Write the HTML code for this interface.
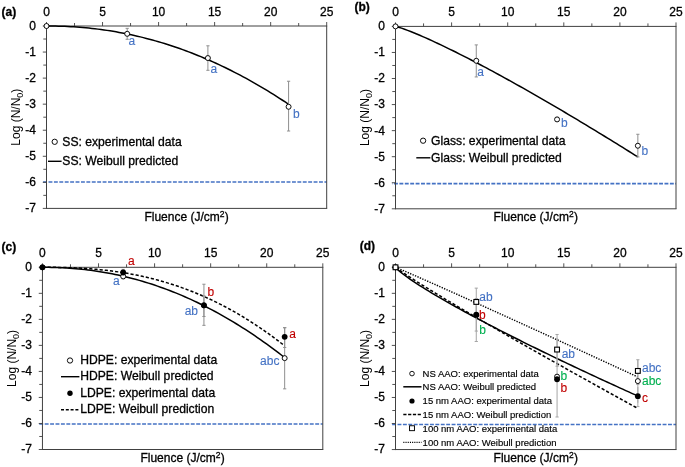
<!DOCTYPE html>
<html><head><meta charset="utf-8"><style>
html,body{margin:0;padding:0;background:#fff;}
svg{display:block;will-change:transform;}
svg text{font-family:"Liberation Sans", sans-serif;}
</style></head><body>
<svg width="685" height="467" viewBox="0 0 685 467">
<rect width="685" height="467" fill="#fff"/>
<line x1="43.10" y1="181.90" x2="326.70" y2="181.90" stroke="#4472c4" stroke-width="1.55" stroke-dasharray="3.9,1.51" stroke-dashoffset="0.00"/>
<line x1="326.70" y1="26.00" x2="326.70" y2="208.40" stroke="#404040" stroke-width="1"/>
<line x1="46.50" y1="208.40" x2="327.20" y2="208.40" stroke="#404040" stroke-width="1"/>
<line x1="46.50" y1="26.00" x2="327.20" y2="26.00" stroke="#404040" stroke-width="1"/>
<line x1="46.50" y1="25.50" x2="46.50" y2="208.90" stroke="#404040" stroke-width="1"/>
<line x1="46.50" y1="26.00" x2="46.50" y2="22.00" stroke="#404040" stroke-width="0.9"/>
<text x="46.50" y="15.60" font-size="12" fill="#000" text-anchor="middle" font-weight="normal" stroke="#000" stroke-width="0.30">0</text>
<line x1="74.52" y1="26.00" x2="74.52" y2="23.00" stroke="#404040" stroke-width="0.9"/>
<line x1="102.54" y1="26.00" x2="102.54" y2="22.00" stroke="#404040" stroke-width="0.9"/>
<text x="102.54" y="15.60" font-size="12" fill="#000" text-anchor="middle" font-weight="normal" stroke="#000" stroke-width="0.30">5</text>
<line x1="130.56" y1="26.00" x2="130.56" y2="23.00" stroke="#404040" stroke-width="0.9"/>
<line x1="158.58" y1="26.00" x2="158.58" y2="22.00" stroke="#404040" stroke-width="0.9"/>
<text x="158.58" y="15.60" font-size="12" fill="#000" text-anchor="middle" font-weight="normal" stroke="#000" stroke-width="0.30">10</text>
<line x1="186.60" y1="26.00" x2="186.60" y2="23.00" stroke="#404040" stroke-width="0.9"/>
<line x1="214.62" y1="26.00" x2="214.62" y2="22.00" stroke="#404040" stroke-width="0.9"/>
<text x="214.62" y="15.60" font-size="12" fill="#000" text-anchor="middle" font-weight="normal" stroke="#000" stroke-width="0.30">15</text>
<line x1="242.64" y1="26.00" x2="242.64" y2="23.00" stroke="#404040" stroke-width="0.9"/>
<line x1="270.66" y1="26.00" x2="270.66" y2="22.00" stroke="#404040" stroke-width="0.9"/>
<text x="270.66" y="15.60" font-size="12" fill="#000" text-anchor="middle" font-weight="normal" stroke="#000" stroke-width="0.30">20</text>
<line x1="298.68" y1="26.00" x2="298.68" y2="23.00" stroke="#404040" stroke-width="0.9"/>
<line x1="326.70" y1="26.00" x2="326.70" y2="22.00" stroke="#404040" stroke-width="0.9"/>
<text x="326.70" y="15.60" font-size="12" fill="#000" text-anchor="middle" font-weight="normal" stroke="#000" stroke-width="0.30">25</text>
<line x1="46.50" y1="26.00" x2="42.80" y2="26.00" stroke="#404040" stroke-width="0.9"/>
<text x="36.00" y="29.90" font-size="12" fill="#000" text-anchor="end" font-weight="normal" stroke="#000" stroke-width="0.30">0</text>
<line x1="46.50" y1="39.03" x2="43.30" y2="39.03" stroke="#404040" stroke-width="0.9"/>
<line x1="46.50" y1="52.06" x2="42.80" y2="52.06" stroke="#404040" stroke-width="0.9"/>
<text x="36.00" y="55.96" font-size="12" fill="#000" text-anchor="end" font-weight="normal" stroke="#000" stroke-width="0.30">-1</text>
<line x1="46.50" y1="65.09" x2="43.30" y2="65.09" stroke="#404040" stroke-width="0.9"/>
<line x1="46.50" y1="78.11" x2="42.80" y2="78.11" stroke="#404040" stroke-width="0.9"/>
<text x="36.00" y="82.01" font-size="12" fill="#000" text-anchor="end" font-weight="normal" stroke="#000" stroke-width="0.30">-2</text>
<line x1="46.50" y1="91.14" x2="43.30" y2="91.14" stroke="#404040" stroke-width="0.9"/>
<line x1="46.50" y1="104.17" x2="42.80" y2="104.17" stroke="#404040" stroke-width="0.9"/>
<text x="36.00" y="108.07" font-size="12" fill="#000" text-anchor="end" font-weight="normal" stroke="#000" stroke-width="0.30">-3</text>
<line x1="46.50" y1="117.20" x2="43.30" y2="117.20" stroke="#404040" stroke-width="0.9"/>
<line x1="46.50" y1="130.23" x2="42.80" y2="130.23" stroke="#404040" stroke-width="0.9"/>
<text x="36.00" y="134.13" font-size="12" fill="#000" text-anchor="end" font-weight="normal" stroke="#000" stroke-width="0.30">-4</text>
<line x1="46.50" y1="143.26" x2="43.30" y2="143.26" stroke="#404040" stroke-width="0.9"/>
<line x1="46.50" y1="156.29" x2="42.80" y2="156.29" stroke="#404040" stroke-width="0.9"/>
<text x="36.00" y="160.19" font-size="12" fill="#000" text-anchor="end" font-weight="normal" stroke="#000" stroke-width="0.30">-5</text>
<line x1="46.50" y1="169.31" x2="43.30" y2="169.31" stroke="#404040" stroke-width="0.9"/>
<line x1="46.50" y1="182.34" x2="42.80" y2="182.34" stroke="#404040" stroke-width="0.9"/>
<text x="36.00" y="186.24" font-size="12" fill="#000" text-anchor="end" font-weight="normal" stroke="#000" stroke-width="0.30">-6</text>
<line x1="46.50" y1="195.37" x2="43.30" y2="195.37" stroke="#404040" stroke-width="0.9"/>
<line x1="46.50" y1="208.40" x2="42.80" y2="208.40" stroke="#404040" stroke-width="0.9"/>
<text x="36.00" y="212.30" font-size="12" fill="#000" text-anchor="end" font-weight="normal" stroke="#000" stroke-width="0.30">-7</text>
<text x="186.60" y="221.00" font-size="12" fill="#000" text-anchor="middle" font-weight="normal" stroke="#000" stroke-width="0.30">Fluence (J/cm<tspan font-size="8.5" dy="-4.3">2</tspan><tspan dy="4.3" dx="0.3">)</tspan></text>
<text transform="translate(20.00,117.20) rotate(-90)" font-size="12" text-anchor="middle">Log (N/N<tspan font-size="9" dy="2.6">0</tspan><tspan dy="-2.6">)</tspan></text>
<text x="1.50" y="16.30" font-size="12" fill="#000" text-anchor="start" font-weight="bold" stroke="#000" stroke-width="0.30">(a)</text>
<polyline points="46.50,26.00 49.53,26.01 52.55,26.04 55.58,26.08 58.60,26.15 61.63,26.24 64.66,26.36 67.68,26.49 70.71,26.65 73.74,26.83 76.76,27.04 79.79,27.26 82.81,27.51 85.84,27.79 88.87,28.08 91.89,28.41 94.92,28.75 97.94,29.12 100.97,29.52 104.00,29.93 107.02,30.38 110.05,30.85 113.08,31.34 116.10,31.85 119.13,32.40 122.15,32.96 125.18,33.56 128.21,34.17 131.23,34.81 134.26,35.48 137.28,36.17 140.31,36.89 143.34,37.64 146.36,38.41 149.39,39.20 152.42,40.02 155.44,40.87 158.47,41.74 161.49,42.64 164.52,43.56 167.55,44.51 170.57,45.49 173.60,46.49 176.62,47.51 179.65,48.57 182.68,49.65 185.70,50.75 188.73,51.89 191.76,53.05 194.78,54.23 197.81,55.44 200.83,56.68 203.86,57.95 206.89,59.24 209.91,60.55 212.94,61.90 215.96,63.27 218.99,64.67 222.02,66.09 225.04,67.54 228.07,69.02 231.10,70.53 234.12,72.06 237.15,73.62 240.17,75.20 243.20,76.81 246.23,78.45 249.25,80.12 252.28,81.81 255.31,83.53 258.33,85.28 261.36,87.06 264.38,88.86 267.41,90.69 270.44,92.55 273.46,94.43 276.49,96.34 279.51,98.28 282.54,100.25 285.57,102.24 288.59,104.26" fill="none" stroke="#000" stroke-width="1.50" stroke-linecap="butt" stroke-linejoin="round"/>
<line x1="127.20" y1="28.35" x2="127.20" y2="39.29" stroke="#8f8f8f" stroke-width="1"/>
<line x1="125.60" y1="28.35" x2="128.80" y2="28.35" stroke="#8f8f8f" stroke-width="1"/>
<line x1="125.60" y1="39.29" x2="128.80" y2="39.29" stroke="#8f8f8f" stroke-width="1"/>
<line x1="207.90" y1="45.80" x2="207.90" y2="70.30" stroke="#8f8f8f" stroke-width="1"/>
<line x1="206.30" y1="45.80" x2="209.50" y2="45.80" stroke="#8f8f8f" stroke-width="1"/>
<line x1="206.30" y1="70.30" x2="209.50" y2="70.30" stroke="#8f8f8f" stroke-width="1"/>
<line x1="288.59" y1="81.24" x2="288.59" y2="131.01" stroke="#8f8f8f" stroke-width="1"/>
<line x1="286.99" y1="81.24" x2="290.19" y2="81.24" stroke="#8f8f8f" stroke-width="1"/>
<line x1="286.99" y1="131.01" x2="290.19" y2="131.01" stroke="#8f8f8f" stroke-width="1"/>
<circle cx="46.50" cy="26.00" r="2.50" fill="#fff" stroke="#000" stroke-width="0.95"/>
<circle cx="127.20" cy="33.82" r="2.50" fill="#fff" stroke="#000" stroke-width="0.95"/>
<circle cx="207.90" cy="58.05" r="2.50" fill="#fff" stroke="#000" stroke-width="0.95"/>
<circle cx="288.59" cy="106.78" r="2.50" fill="#fff" stroke="#000" stroke-width="0.95"/>
<text x="128.60" y="44.50" font-size="12" fill="#4472c4" text-anchor="start" font-weight="normal" stroke="#4472c4" stroke-width="0.12">a</text>
<text x="210.50" y="72.80" font-size="12" fill="#4472c4" text-anchor="start" font-weight="normal" stroke="#4472c4" stroke-width="0.12">a</text>
<text x="292.90" y="117.50" font-size="12" fill="#4472c4" text-anchor="start" font-weight="normal" stroke="#4472c4" stroke-width="0.12">b</text>
<circle cx="54.70" cy="141.80" r="2.65" fill="#fff" stroke="#000" stroke-width="0.95"/>
<text x="62.30" y="145.90" font-size="12.15" fill="#000" text-anchor="start" font-weight="normal" stroke="#000" stroke-width="0.30">SS: experimental data</text>
<line x1="48" y1="161.3" x2="61.6" y2="161.3" stroke="#000" stroke-width="1.4"/>
<text x="62.30" y="165.30" font-size="12.15" fill="#000" text-anchor="start" font-weight="normal" stroke="#000" stroke-width="0.30">SS: Weibull predicted</text>
<line x1="392.10" y1="183.60" x2="676.00" y2="183.60" stroke="#4472c4" stroke-width="1.55" stroke-dasharray="3.9,1.51" stroke-dashoffset="3.52"/>
<line x1="676.00" y1="26.40" x2="676.00" y2="208.80" stroke="#404040" stroke-width="1"/>
<line x1="395.50" y1="208.80" x2="676.50" y2="208.80" stroke="#404040" stroke-width="1"/>
<line x1="395.50" y1="26.40" x2="676.50" y2="26.40" stroke="#404040" stroke-width="1"/>
<line x1="395.50" y1="25.90" x2="395.50" y2="209.30" stroke="#404040" stroke-width="1"/>
<line x1="395.50" y1="26.40" x2="395.50" y2="22.40" stroke="#404040" stroke-width="0.9"/>
<text x="395.50" y="16.00" font-size="12" fill="#000" text-anchor="middle" font-weight="normal" stroke="#000" stroke-width="0.30">0</text>
<line x1="423.55" y1="26.40" x2="423.55" y2="23.40" stroke="#404040" stroke-width="0.9"/>
<line x1="451.60" y1="26.40" x2="451.60" y2="22.40" stroke="#404040" stroke-width="0.9"/>
<text x="451.60" y="16.00" font-size="12" fill="#000" text-anchor="middle" font-weight="normal" stroke="#000" stroke-width="0.30">5</text>
<line x1="479.65" y1="26.40" x2="479.65" y2="23.40" stroke="#404040" stroke-width="0.9"/>
<line x1="507.70" y1="26.40" x2="507.70" y2="22.40" stroke="#404040" stroke-width="0.9"/>
<text x="507.70" y="16.00" font-size="12" fill="#000" text-anchor="middle" font-weight="normal" stroke="#000" stroke-width="0.30">10</text>
<line x1="535.75" y1="26.40" x2="535.75" y2="23.40" stroke="#404040" stroke-width="0.9"/>
<line x1="563.80" y1="26.40" x2="563.80" y2="22.40" stroke="#404040" stroke-width="0.9"/>
<text x="563.80" y="16.00" font-size="12" fill="#000" text-anchor="middle" font-weight="normal" stroke="#000" stroke-width="0.30">15</text>
<line x1="591.85" y1="26.40" x2="591.85" y2="23.40" stroke="#404040" stroke-width="0.9"/>
<line x1="619.90" y1="26.40" x2="619.90" y2="22.40" stroke="#404040" stroke-width="0.9"/>
<text x="619.90" y="16.00" font-size="12" fill="#000" text-anchor="middle" font-weight="normal" stroke="#000" stroke-width="0.30">20</text>
<line x1="647.95" y1="26.40" x2="647.95" y2="23.40" stroke="#404040" stroke-width="0.9"/>
<line x1="676.00" y1="26.40" x2="676.00" y2="22.40" stroke="#404040" stroke-width="0.9"/>
<text x="676.00" y="16.00" font-size="12" fill="#000" text-anchor="middle" font-weight="normal" stroke="#000" stroke-width="0.30">25</text>
<line x1="395.50" y1="26.40" x2="391.80" y2="26.40" stroke="#404040" stroke-width="0.9"/>
<text x="385.00" y="30.30" font-size="12" fill="#000" text-anchor="end" font-weight="normal" stroke="#000" stroke-width="0.30">0</text>
<line x1="395.50" y1="39.43" x2="392.30" y2="39.43" stroke="#404040" stroke-width="0.9"/>
<line x1="395.50" y1="52.46" x2="391.80" y2="52.46" stroke="#404040" stroke-width="0.9"/>
<text x="385.00" y="56.36" font-size="12" fill="#000" text-anchor="end" font-weight="normal" stroke="#000" stroke-width="0.30">-1</text>
<line x1="395.50" y1="65.49" x2="392.30" y2="65.49" stroke="#404040" stroke-width="0.9"/>
<line x1="395.50" y1="78.51" x2="391.80" y2="78.51" stroke="#404040" stroke-width="0.9"/>
<text x="385.00" y="82.41" font-size="12" fill="#000" text-anchor="end" font-weight="normal" stroke="#000" stroke-width="0.30">-2</text>
<line x1="395.50" y1="91.54" x2="392.30" y2="91.54" stroke="#404040" stroke-width="0.9"/>
<line x1="395.50" y1="104.57" x2="391.80" y2="104.57" stroke="#404040" stroke-width="0.9"/>
<text x="385.00" y="108.47" font-size="12" fill="#000" text-anchor="end" font-weight="normal" stroke="#000" stroke-width="0.30">-3</text>
<line x1="395.50" y1="117.60" x2="392.30" y2="117.60" stroke="#404040" stroke-width="0.9"/>
<line x1="395.50" y1="130.63" x2="391.80" y2="130.63" stroke="#404040" stroke-width="0.9"/>
<text x="385.00" y="134.53" font-size="12" fill="#000" text-anchor="end" font-weight="normal" stroke="#000" stroke-width="0.30">-4</text>
<line x1="395.50" y1="143.66" x2="392.30" y2="143.66" stroke="#404040" stroke-width="0.9"/>
<line x1="395.50" y1="156.69" x2="391.80" y2="156.69" stroke="#404040" stroke-width="0.9"/>
<text x="385.00" y="160.59" font-size="12" fill="#000" text-anchor="end" font-weight="normal" stroke="#000" stroke-width="0.30">-5</text>
<line x1="395.50" y1="169.71" x2="392.30" y2="169.71" stroke="#404040" stroke-width="0.9"/>
<line x1="395.50" y1="182.74" x2="391.80" y2="182.74" stroke="#404040" stroke-width="0.9"/>
<text x="385.00" y="186.64" font-size="12" fill="#000" text-anchor="end" font-weight="normal" stroke="#000" stroke-width="0.30">-6</text>
<line x1="395.50" y1="195.77" x2="392.30" y2="195.77" stroke="#404040" stroke-width="0.9"/>
<line x1="395.50" y1="208.80" x2="391.80" y2="208.80" stroke="#404040" stroke-width="0.9"/>
<text x="385.00" y="212.70" font-size="12" fill="#000" text-anchor="end" font-weight="normal" stroke="#000" stroke-width="0.30">-7</text>
<text x="535.75" y="221.40" font-size="12" fill="#000" text-anchor="middle" font-weight="normal" stroke="#000" stroke-width="0.30">Fluence (J/cm<tspan font-size="8.5" dy="-4.3">2</tspan><tspan dy="4.3" dx="0.3">)</tspan></text>
<text transform="translate(369.00,117.60) rotate(-90)" font-size="12" text-anchor="middle">Log (N/N<tspan font-size="9" dy="2.6">0</tspan><tspan dy="-2.6">)</tspan></text>
<text x="354.40" y="11.40" font-size="12" fill="#000" text-anchor="start" font-weight="bold" stroke="#000" stroke-width="0.30">(b)</text>
<polyline points="395.50,26.40 398.53,27.19 401.56,28.16 404.59,29.23 407.62,30.36 410.65,31.54 413.68,32.75 416.71,34.01 419.74,35.29 422.76,36.60 425.79,37.93 428.82,39.29 431.85,40.67 434.88,42.06 437.91,43.48 440.94,44.91 443.97,46.36 447.00,47.82 450.03,49.30 453.06,50.79 456.09,52.29 459.12,53.81 462.15,55.34 465.18,56.88 468.21,58.43 471.24,59.99 474.26,61.57 477.29,63.15 480.32,64.74 483.35,66.35 486.38,67.96 489.41,69.58 492.44,71.21 495.47,72.85 498.50,74.50 501.53,76.15 504.56,77.81 507.59,79.48 510.62,81.16 513.65,82.85 516.68,84.54 519.71,86.24 522.73,87.95 525.76,89.66 528.79,91.38 531.82,93.11 534.85,94.84 537.88,96.58 540.91,98.32 543.94,100.08 546.97,101.83 550.00,103.60 553.03,105.37 556.06,107.14 559.09,108.92 562.12,110.71 565.15,112.50 568.18,114.30 571.21,116.10 574.23,117.91 577.26,119.72 580.29,121.54 583.32,123.36 586.35,125.19 589.38,127.02 592.41,128.85 595.44,130.70 598.47,132.54 601.50,134.39 604.53,136.25 607.56,138.11 610.59,139.97 613.62,141.84 616.65,143.72 619.68,145.59 622.71,147.48 625.73,149.36 628.76,151.25 631.79,153.15 634.82,155.04 637.85,156.95" fill="none" stroke="#000" stroke-width="1.50" stroke-linecap="butt" stroke-linejoin="round"/>
<line x1="476.28" y1="44.90" x2="476.28" y2="76.95" stroke="#8f8f8f" stroke-width="1"/>
<line x1="474.68" y1="44.90" x2="477.88" y2="44.90" stroke="#8f8f8f" stroke-width="1"/>
<line x1="474.68" y1="76.95" x2="477.88" y2="76.95" stroke="#8f8f8f" stroke-width="1"/>
<line x1="557.07" y1="117.34" x2="557.07" y2="121.51" stroke="#8f8f8f" stroke-width="1"/>
<line x1="555.47" y1="117.34" x2="558.67" y2="117.34" stroke="#8f8f8f" stroke-width="1"/>
<line x1="555.47" y1="121.51" x2="558.67" y2="121.51" stroke="#8f8f8f" stroke-width="1"/>
<line x1="637.85" y1="134.28" x2="637.85" y2="156.95" stroke="#8f8f8f" stroke-width="1"/>
<line x1="636.25" y1="134.28" x2="639.45" y2="134.28" stroke="#8f8f8f" stroke-width="1"/>
<line x1="636.25" y1="156.95" x2="639.45" y2="156.95" stroke="#8f8f8f" stroke-width="1"/>
<circle cx="395.50" cy="26.40" r="2.50" fill="#fff" stroke="#000" stroke-width="0.95"/>
<circle cx="476.28" cy="60.80" r="2.50" fill="#fff" stroke="#000" stroke-width="0.95"/>
<circle cx="557.07" cy="119.42" r="2.50" fill="#fff" stroke="#000" stroke-width="0.95"/>
<circle cx="637.85" cy="145.74" r="2.50" fill="#fff" stroke="#000" stroke-width="0.95"/>
<text x="477.20" y="76.20" font-size="12" fill="#4472c4" text-anchor="start" font-weight="normal" stroke="#4472c4" stroke-width="0.12">a</text>
<text x="561.00" y="126.80" font-size="12" fill="#4472c4" text-anchor="start" font-weight="normal" stroke="#4472c4" stroke-width="0.12">b</text>
<text x="641.40" y="154.60" font-size="12" fill="#4472c4" text-anchor="start" font-weight="normal" stroke="#4472c4" stroke-width="0.12">b</text>
<circle cx="423.10" cy="140.70" r="2.65" fill="#fff" stroke="#000" stroke-width="0.95"/>
<text x="431.10" y="144.90" font-size="12.15" fill="#000" text-anchor="start" font-weight="normal" stroke="#000" stroke-width="0.30">Glass: experimental data</text>
<line x1="416.3" y1="157.8" x2="430.4" y2="157.8" stroke="#000" stroke-width="1.4"/>
<text x="431.10" y="162.20" font-size="12.15" fill="#000" text-anchor="start" font-weight="normal" stroke="#000" stroke-width="0.30">Glass: Weibull predicted</text>
<line x1="39.05" y1="424.00" x2="322.80" y2="424.00" stroke="#4472c4" stroke-width="1.55" stroke-dasharray="3.9,1.51" stroke-dashoffset="5.16"/>
<line x1="322.80" y1="267.30" x2="322.80" y2="449.50" stroke="#404040" stroke-width="1"/>
<line x1="42.45" y1="449.50" x2="323.30" y2="449.50" stroke="#404040" stroke-width="1"/>
<line x1="42.45" y1="267.30" x2="323.30" y2="267.30" stroke="#404040" stroke-width="1"/>
<line x1="42.45" y1="266.80" x2="42.45" y2="450.00" stroke="#404040" stroke-width="1"/>
<line x1="42.45" y1="267.30" x2="42.45" y2="263.30" stroke="#404040" stroke-width="0.9"/>
<text x="42.45" y="256.90" font-size="12" fill="#000" text-anchor="middle" font-weight="normal" stroke="#000" stroke-width="0.30">0</text>
<line x1="70.48" y1="267.30" x2="70.48" y2="264.30" stroke="#404040" stroke-width="0.9"/>
<line x1="98.52" y1="267.30" x2="98.52" y2="263.30" stroke="#404040" stroke-width="0.9"/>
<text x="98.52" y="256.90" font-size="12" fill="#000" text-anchor="middle" font-weight="normal" stroke="#000" stroke-width="0.30">5</text>
<line x1="126.56" y1="267.30" x2="126.56" y2="264.30" stroke="#404040" stroke-width="0.9"/>
<line x1="154.59" y1="267.30" x2="154.59" y2="263.30" stroke="#404040" stroke-width="0.9"/>
<text x="154.59" y="256.90" font-size="12" fill="#000" text-anchor="middle" font-weight="normal" stroke="#000" stroke-width="0.30">10</text>
<line x1="182.62" y1="267.30" x2="182.62" y2="264.30" stroke="#404040" stroke-width="0.9"/>
<line x1="210.66" y1="267.30" x2="210.66" y2="263.30" stroke="#404040" stroke-width="0.9"/>
<text x="210.66" y="256.90" font-size="12" fill="#000" text-anchor="middle" font-weight="normal" stroke="#000" stroke-width="0.30">15</text>
<line x1="238.69" y1="267.30" x2="238.69" y2="264.30" stroke="#404040" stroke-width="0.9"/>
<line x1="266.73" y1="267.30" x2="266.73" y2="263.30" stroke="#404040" stroke-width="0.9"/>
<text x="266.73" y="256.90" font-size="12" fill="#000" text-anchor="middle" font-weight="normal" stroke="#000" stroke-width="0.30">20</text>
<line x1="294.77" y1="267.30" x2="294.77" y2="264.30" stroke="#404040" stroke-width="0.9"/>
<line x1="322.80" y1="267.30" x2="322.80" y2="263.30" stroke="#404040" stroke-width="0.9"/>
<text x="322.80" y="256.90" font-size="12" fill="#000" text-anchor="middle" font-weight="normal" stroke="#000" stroke-width="0.30">25</text>
<line x1="42.45" y1="267.30" x2="38.75" y2="267.30" stroke="#404040" stroke-width="0.9"/>
<text x="31.95" y="271.20" font-size="12" fill="#000" text-anchor="end" font-weight="normal" stroke="#000" stroke-width="0.30">0</text>
<line x1="42.45" y1="280.31" x2="39.25" y2="280.31" stroke="#404040" stroke-width="0.9"/>
<line x1="42.45" y1="293.33" x2="38.75" y2="293.33" stroke="#404040" stroke-width="0.9"/>
<text x="31.95" y="297.23" font-size="12" fill="#000" text-anchor="end" font-weight="normal" stroke="#000" stroke-width="0.30">-1</text>
<line x1="42.45" y1="306.34" x2="39.25" y2="306.34" stroke="#404040" stroke-width="0.9"/>
<line x1="42.45" y1="319.36" x2="38.75" y2="319.36" stroke="#404040" stroke-width="0.9"/>
<text x="31.95" y="323.26" font-size="12" fill="#000" text-anchor="end" font-weight="normal" stroke="#000" stroke-width="0.30">-2</text>
<line x1="42.45" y1="332.37" x2="39.25" y2="332.37" stroke="#404040" stroke-width="0.9"/>
<line x1="42.45" y1="345.39" x2="38.75" y2="345.39" stroke="#404040" stroke-width="0.9"/>
<text x="31.95" y="349.29" font-size="12" fill="#000" text-anchor="end" font-weight="normal" stroke="#000" stroke-width="0.30">-3</text>
<line x1="42.45" y1="358.40" x2="39.25" y2="358.40" stroke="#404040" stroke-width="0.9"/>
<line x1="42.45" y1="371.41" x2="38.75" y2="371.41" stroke="#404040" stroke-width="0.9"/>
<text x="31.95" y="375.31" font-size="12" fill="#000" text-anchor="end" font-weight="normal" stroke="#000" stroke-width="0.30">-4</text>
<line x1="42.45" y1="384.43" x2="39.25" y2="384.43" stroke="#404040" stroke-width="0.9"/>
<line x1="42.45" y1="397.44" x2="38.75" y2="397.44" stroke="#404040" stroke-width="0.9"/>
<text x="31.95" y="401.34" font-size="12" fill="#000" text-anchor="end" font-weight="normal" stroke="#000" stroke-width="0.30">-5</text>
<line x1="42.45" y1="410.46" x2="39.25" y2="410.46" stroke="#404040" stroke-width="0.9"/>
<line x1="42.45" y1="423.47" x2="38.75" y2="423.47" stroke="#404040" stroke-width="0.9"/>
<text x="31.95" y="427.37" font-size="12" fill="#000" text-anchor="end" font-weight="normal" stroke="#000" stroke-width="0.30">-6</text>
<line x1="42.45" y1="436.49" x2="39.25" y2="436.49" stroke="#404040" stroke-width="0.9"/>
<line x1="42.45" y1="449.50" x2="38.75" y2="449.50" stroke="#404040" stroke-width="0.9"/>
<text x="31.95" y="453.40" font-size="12" fill="#000" text-anchor="end" font-weight="normal" stroke="#000" stroke-width="0.30">-7</text>
<text x="182.62" y="462.10" font-size="12" fill="#000" text-anchor="middle" font-weight="normal" stroke="#000" stroke-width="0.30">Fluence (J/cm<tspan font-size="8.5" dy="-4.3">2</tspan><tspan dy="4.3" dx="0.3">)</tspan></text>
<text transform="translate(15.95,358.40) rotate(-90)" font-size="12" text-anchor="middle">Log (N/N<tspan font-size="9" dy="2.6">0</tspan><tspan dy="-2.6">)</tspan></text>
<text x="1.50" y="251.40" font-size="12" fill="#000" text-anchor="start" font-weight="bold" stroke="#000" stroke-width="0.30">(c)</text>
<polyline points="42.45,267.30 45.48,267.31 48.51,267.34 51.53,267.39 54.56,267.46 57.59,267.56 60.62,267.68 63.64,267.83 66.67,268.00 69.70,268.20 72.73,268.43 75.76,268.68 78.78,268.96 81.81,269.26 84.84,269.59 87.87,269.95 90.89,270.34 93.92,270.75 96.95,271.19 99.98,271.66 103.01,272.16 106.03,272.69 109.06,273.24 112.09,273.83 115.12,274.44 118.14,275.08 121.17,275.75 124.20,276.45 127.23,277.18 130.26,277.94 133.28,278.73 136.31,279.54 139.34,280.39 142.37,281.27 145.39,282.18 148.42,283.11 151.45,284.08 154.48,285.08 157.51,286.11 160.53,287.17 163.56,288.25 166.59,289.37 169.62,290.52 172.64,291.71 175.67,292.92 178.70,294.16 181.73,295.43 184.76,296.74 187.78,298.08 190.81,299.44 193.84,300.84 196.87,302.27 199.89,303.73 202.92,305.22 205.95,306.75 208.98,308.30 212.01,309.89 215.03,311.51 218.06,313.16 221.09,314.84 224.12,316.56 227.14,318.31 230.17,320.08 233.20,321.89 236.23,323.74 239.26,325.61 242.28,327.52 245.31,329.46 248.34,331.43 251.37,333.44 254.39,335.47 257.42,337.54 260.45,339.64 263.48,341.78 266.51,343.94 269.53,346.14 272.56,348.38 275.59,350.64 278.62,352.94 281.64,355.27 284.67,357.64" fill="none" stroke="#000" stroke-width="1.50" stroke-linecap="butt" stroke-linejoin="round"/>
<polyline points="42.45,267.30 45.48,267.30 48.51,267.31 51.53,267.33 54.56,267.35 57.59,267.39 60.62,267.44 63.64,267.50 66.67,267.58 69.70,267.68 72.73,267.79 75.76,267.92 78.78,268.06 81.81,268.23 84.84,268.41 87.87,268.62 90.89,268.84 93.92,269.09 96.95,269.35 99.98,269.65 103.01,269.96 106.03,270.29 109.06,270.66 112.09,271.04 115.12,271.45 118.14,271.88 121.17,272.35 124.20,272.83 127.23,273.35 130.26,273.89 133.28,274.46 136.31,275.05 139.34,275.68 142.37,276.33 145.39,277.02 148.42,277.73 151.45,278.47 154.48,279.25 157.51,280.05 160.53,280.89 163.56,281.75 166.59,282.65 169.62,283.58 172.64,284.55 175.67,285.54 178.70,286.57 181.73,287.64 184.76,288.73 187.78,289.87 190.81,291.03 193.84,292.23 196.87,293.47 199.89,294.74 202.92,296.05 205.95,297.39 208.98,298.77 212.01,300.18 215.03,301.64 218.06,303.13 221.09,304.66 224.12,306.22 227.14,307.83 230.17,309.47 233.20,311.15 236.23,312.87 239.26,314.63 242.28,316.43 245.31,318.26 248.34,320.14 251.37,322.06 254.39,324.02 257.42,326.02 260.45,328.06 263.48,330.14 266.51,332.27 269.53,334.43 272.56,336.64 275.59,338.89 278.62,341.19 281.64,343.52 284.67,345.90" fill="none" stroke="#000" stroke-width="1.50" stroke-dasharray="3.2,2" stroke-linecap="butt" stroke-linejoin="round"/>
<line x1="123.19" y1="274.07" x2="123.19" y2="278.75" stroke="#8f8f8f" stroke-width="1"/>
<line x1="121.59" y1="274.07" x2="124.79" y2="274.07" stroke="#8f8f8f" stroke-width="1"/>
<line x1="121.59" y1="278.75" x2="124.79" y2="278.75" stroke="#8f8f8f" stroke-width="1"/>
<line x1="123.19" y1="269.38" x2="123.19" y2="275.11" stroke="#8f8f8f" stroke-width="1"/>
<line x1="121.59" y1="269.38" x2="124.79" y2="269.38" stroke="#8f8f8f" stroke-width="1"/>
<line x1="121.59" y1="275.11" x2="124.79" y2="275.11" stroke="#8f8f8f" stroke-width="1"/>
<line x1="203.93" y1="284.22" x2="203.93" y2="325.34" stroke="#8f8f8f" stroke-width="1"/>
<line x1="202.33" y1="284.22" x2="205.53" y2="284.22" stroke="#8f8f8f" stroke-width="1"/>
<line x1="202.33" y1="325.34" x2="205.53" y2="325.34" stroke="#8f8f8f" stroke-width="1"/>
<line x1="203.93" y1="295.93" x2="203.93" y2="316.49" stroke="#8f8f8f" stroke-width="1"/>
<line x1="202.33" y1="295.93" x2="205.53" y2="295.93" stroke="#8f8f8f" stroke-width="1"/>
<line x1="202.33" y1="316.49" x2="205.53" y2="316.49" stroke="#8f8f8f" stroke-width="1"/>
<line x1="284.67" y1="327.69" x2="284.67" y2="388.85" stroke="#8f8f8f" stroke-width="1"/>
<line x1="283.07" y1="327.69" x2="286.27" y2="327.69" stroke="#8f8f8f" stroke-width="1"/>
<line x1="283.07" y1="388.85" x2="286.27" y2="388.85" stroke="#8f8f8f" stroke-width="1"/>
<line x1="284.67" y1="327.69" x2="284.67" y2="347.47" stroke="#8f8f8f" stroke-width="1"/>
<line x1="283.07" y1="327.69" x2="286.27" y2="327.69" stroke="#8f8f8f" stroke-width="1"/>
<line x1="283.07" y1="347.47" x2="286.27" y2="347.47" stroke="#8f8f8f" stroke-width="1"/>
<circle cx="42.45" cy="267.30" r="2.50" fill="#fff" stroke="#000" stroke-width="0.95"/>
<circle cx="123.19" cy="276.41" r="2.50" fill="#fff" stroke="#000" stroke-width="0.95"/>
<circle cx="203.93" cy="305.30" r="2.50" fill="#fff" stroke="#000" stroke-width="0.95"/>
<circle cx="284.67" cy="358.14" r="2.50" fill="#fff" stroke="#000" stroke-width="0.95"/>
<circle cx="42.45" cy="267.30" r="2.90" fill="#000"/>
<circle cx="123.19" cy="272.51" r="2.90" fill="#000"/>
<circle cx="203.93" cy="305.30" r="2.90" fill="#000"/>
<circle cx="284.67" cy="336.80" r="2.90" fill="#000"/>
<text x="128.00" y="264.60" font-size="12" fill="#c00000" text-anchor="start" font-weight="normal" stroke="#c00000" stroke-width="0.12">a</text>
<text x="113.00" y="284.60" font-size="12" fill="#4472c4" text-anchor="start" font-weight="normal" stroke="#4472c4" stroke-width="0.12">a</text>
<text x="207.40" y="296.10" font-size="12" fill="#c00000" text-anchor="start" font-weight="normal" stroke="#c00000" stroke-width="0.12">b</text>
<text x="184.70" y="315.10" font-size="12" fill="#4472c4" text-anchor="start" font-weight="normal" stroke="#4472c4" stroke-width="0.12">ab</text>
<text x="289.30" y="338.40" font-size="12" fill="#c00000" text-anchor="start" font-weight="normal" stroke="#c00000" stroke-width="0.12">a</text>
<text x="260.10" y="365.30" font-size="12" fill="#4472c4" text-anchor="start" font-weight="normal" stroke="#4472c4" stroke-width="0.12">abc</text>
<circle cx="70.00" cy="360.50" r="2.65" fill="#fff" stroke="#000" stroke-width="0.95"/>
<text x="80.20" y="363.90" font-size="12.15" fill="#000" text-anchor="start" font-weight="normal" stroke="#000" stroke-width="0.30">HDPE: experimental data</text>
<line x1="61" y1="376.7" x2="79.4" y2="376.7" stroke="#000" stroke-width="1.4"/>
<text x="80.20" y="380.40" font-size="12.15" fill="#000" text-anchor="start" font-weight="normal" stroke="#000" stroke-width="0.30">HDPE: Weibull predicted</text>
<circle cx="70.00" cy="393.20" r="2.70" fill="#000"/>
<text x="80.20" y="396.90" font-size="12.15" fill="#000" text-anchor="start" font-weight="normal" stroke="#000" stroke-width="0.30">LDPE: experimental data</text>
<line x1="61" y1="409.7" x2="80" y2="409.7" stroke="#000" stroke-width="1.4" stroke-dasharray="3,1.8"/>
<text x="80.20" y="413.40" font-size="12.15" fill="#000" text-anchor="start" font-weight="normal" stroke="#000" stroke-width="0.30">LDPE: Weibull prediction</text>
<line x1="392.10" y1="424.40" x2="676.00" y2="424.40" stroke="#4472c4" stroke-width="1.55" stroke-dasharray="3.9,1.51" stroke-dashoffset="0.00"/>
<line x1="676.00" y1="267.30" x2="676.00" y2="449.55" stroke="#404040" stroke-width="1"/>
<line x1="395.50" y1="449.55" x2="676.50" y2="449.55" stroke="#404040" stroke-width="1"/>
<line x1="395.50" y1="267.30" x2="676.50" y2="267.30" stroke="#404040" stroke-width="1"/>
<line x1="395.50" y1="266.80" x2="395.50" y2="450.05" stroke="#404040" stroke-width="1"/>
<line x1="395.50" y1="267.30" x2="395.50" y2="263.30" stroke="#404040" stroke-width="0.9"/>
<text x="395.50" y="256.90" font-size="12" fill="#000" text-anchor="middle" font-weight="normal" stroke="#000" stroke-width="0.30">0</text>
<line x1="423.55" y1="267.30" x2="423.55" y2="264.30" stroke="#404040" stroke-width="0.9"/>
<line x1="451.60" y1="267.30" x2="451.60" y2="263.30" stroke="#404040" stroke-width="0.9"/>
<text x="451.60" y="256.90" font-size="12" fill="#000" text-anchor="middle" font-weight="normal" stroke="#000" stroke-width="0.30">5</text>
<line x1="479.65" y1="267.30" x2="479.65" y2="264.30" stroke="#404040" stroke-width="0.9"/>
<line x1="507.70" y1="267.30" x2="507.70" y2="263.30" stroke="#404040" stroke-width="0.9"/>
<text x="507.70" y="256.90" font-size="12" fill="#000" text-anchor="middle" font-weight="normal" stroke="#000" stroke-width="0.30">10</text>
<line x1="535.75" y1="267.30" x2="535.75" y2="264.30" stroke="#404040" stroke-width="0.9"/>
<line x1="563.80" y1="267.30" x2="563.80" y2="263.30" stroke="#404040" stroke-width="0.9"/>
<text x="563.80" y="256.90" font-size="12" fill="#000" text-anchor="middle" font-weight="normal" stroke="#000" stroke-width="0.30">15</text>
<line x1="591.85" y1="267.30" x2="591.85" y2="264.30" stroke="#404040" stroke-width="0.9"/>
<line x1="619.90" y1="267.30" x2="619.90" y2="263.30" stroke="#404040" stroke-width="0.9"/>
<text x="619.90" y="256.90" font-size="12" fill="#000" text-anchor="middle" font-weight="normal" stroke="#000" stroke-width="0.30">20</text>
<line x1="647.95" y1="267.30" x2="647.95" y2="264.30" stroke="#404040" stroke-width="0.9"/>
<line x1="676.00" y1="267.30" x2="676.00" y2="263.30" stroke="#404040" stroke-width="0.9"/>
<text x="676.00" y="256.90" font-size="12" fill="#000" text-anchor="middle" font-weight="normal" stroke="#000" stroke-width="0.30">25</text>
<line x1="395.50" y1="267.30" x2="391.80" y2="267.30" stroke="#404040" stroke-width="0.9"/>
<text x="385.00" y="271.20" font-size="12" fill="#000" text-anchor="end" font-weight="normal" stroke="#000" stroke-width="0.30">0</text>
<line x1="395.50" y1="280.32" x2="392.30" y2="280.32" stroke="#404040" stroke-width="0.9"/>
<line x1="395.50" y1="293.34" x2="391.80" y2="293.34" stroke="#404040" stroke-width="0.9"/>
<text x="385.00" y="297.24" font-size="12" fill="#000" text-anchor="end" font-weight="normal" stroke="#000" stroke-width="0.30">-1</text>
<line x1="395.50" y1="306.35" x2="392.30" y2="306.35" stroke="#404040" stroke-width="0.9"/>
<line x1="395.50" y1="319.37" x2="391.80" y2="319.37" stroke="#404040" stroke-width="0.9"/>
<text x="385.00" y="323.27" font-size="12" fill="#000" text-anchor="end" font-weight="normal" stroke="#000" stroke-width="0.30">-2</text>
<line x1="395.50" y1="332.39" x2="392.30" y2="332.39" stroke="#404040" stroke-width="0.9"/>
<line x1="395.50" y1="345.41" x2="391.80" y2="345.41" stroke="#404040" stroke-width="0.9"/>
<text x="385.00" y="349.31" font-size="12" fill="#000" text-anchor="end" font-weight="normal" stroke="#000" stroke-width="0.30">-3</text>
<line x1="395.50" y1="358.43" x2="392.30" y2="358.43" stroke="#404040" stroke-width="0.9"/>
<line x1="395.50" y1="371.44" x2="391.80" y2="371.44" stroke="#404040" stroke-width="0.9"/>
<text x="385.00" y="375.34" font-size="12" fill="#000" text-anchor="end" font-weight="normal" stroke="#000" stroke-width="0.30">-4</text>
<line x1="395.50" y1="384.46" x2="392.30" y2="384.46" stroke="#404040" stroke-width="0.9"/>
<line x1="395.50" y1="397.48" x2="391.80" y2="397.48" stroke="#404040" stroke-width="0.9"/>
<text x="385.00" y="401.38" font-size="12" fill="#000" text-anchor="end" font-weight="normal" stroke="#000" stroke-width="0.30">-5</text>
<line x1="395.50" y1="410.50" x2="392.30" y2="410.50" stroke="#404040" stroke-width="0.9"/>
<line x1="395.50" y1="423.51" x2="391.80" y2="423.51" stroke="#404040" stroke-width="0.9"/>
<text x="385.00" y="427.41" font-size="12" fill="#000" text-anchor="end" font-weight="normal" stroke="#000" stroke-width="0.30">-6</text>
<line x1="395.50" y1="436.53" x2="392.30" y2="436.53" stroke="#404040" stroke-width="0.9"/>
<line x1="395.50" y1="449.55" x2="391.80" y2="449.55" stroke="#404040" stroke-width="0.9"/>
<text x="385.00" y="453.45" font-size="12" fill="#000" text-anchor="end" font-weight="normal" stroke="#000" stroke-width="0.30">-7</text>
<text x="535.75" y="462.15" font-size="12" fill="#000" text-anchor="middle" font-weight="normal" stroke="#000" stroke-width="0.30">Fluence (J/cm<tspan font-size="8.5" dy="-4.3">2</tspan><tspan dy="4.3" dx="0.3">)</tspan></text>
<text transform="translate(369.00,358.43) rotate(-90)" font-size="12" text-anchor="middle">Log (N/N<tspan font-size="9" dy="2.6">0</tspan><tspan dy="-2.6">)</tspan></text>
<text x="359.80" y="250.40" font-size="12" fill="#000" text-anchor="start" font-weight="bold" stroke="#000" stroke-width="0.30">(d)</text>
<polyline points="395.50,267.30 398.53,270.42 401.56,272.92 404.59,275.23 407.62,277.42 410.65,279.53 413.68,281.58 416.71,283.58 419.74,285.53 422.76,287.45 425.79,289.33 428.82,291.19 431.85,293.02 434.88,294.83 437.91,296.62 440.94,298.38 443.97,300.13 447.00,301.87 450.03,303.59 453.06,305.29 456.09,306.98 459.12,308.66 462.15,310.33 465.18,311.98 468.21,313.63 471.24,315.26 474.26,316.88 477.29,318.50 480.32,320.10 483.35,321.70 486.38,323.29 489.41,324.87 492.44,326.44 495.47,328.01 498.50,329.57 501.53,331.12 504.56,332.66 507.59,334.20 510.62,335.73 513.65,337.26 516.68,338.78 519.71,340.29 522.73,341.80 525.76,343.31 528.79,344.80 531.82,346.30 534.85,347.79 537.88,349.27 540.91,350.75 543.94,352.22 546.97,353.69 550.00,355.15 553.03,356.61 556.06,358.07 559.09,359.52 562.12,360.97 565.15,362.41 568.18,363.85 571.21,365.29 574.23,366.72 577.26,368.15 580.29,369.58 583.32,371.00 586.35,372.42 589.38,373.83 592.41,375.24 595.44,376.65 598.47,378.06 601.50,379.46 604.53,380.86 607.56,382.25 610.59,383.65 613.62,385.04 616.65,386.42 619.68,387.81 622.71,389.19 625.73,390.57 628.76,391.94 631.79,393.32 634.82,394.69 637.85,396.05" fill="none" stroke="#000" stroke-width="1.50" stroke-linecap="butt" stroke-linejoin="round"/>
<polyline points="395.50,267.30 398.53,269.58 401.56,271.68 404.59,273.71 407.62,275.71 410.65,277.67 413.68,279.62 416.71,281.54 419.74,283.45 422.76,285.34 425.79,287.22 428.82,289.09 431.85,290.95 434.88,292.80 437.91,294.65 440.94,296.48 443.97,298.31 447.00,300.13 450.03,301.95 453.06,303.76 456.09,305.56 459.12,307.36 462.15,309.15 465.18,310.94 468.21,312.72 471.24,314.50 474.26,316.28 477.29,318.05 480.32,319.82 483.35,321.58 486.38,323.34 489.41,325.10 492.44,326.86 495.47,328.61 498.50,330.35 501.53,332.10 504.56,333.84 507.59,335.58 510.62,337.31 513.65,339.05 516.68,340.78 519.71,342.51 522.73,344.23 525.76,345.96 528.79,347.68 531.82,349.39 534.85,351.11 537.88,352.83 540.91,354.54 543.94,356.25 546.97,357.96 550.00,359.66 553.03,361.37 556.06,363.07 559.09,364.77 562.12,366.47 565.15,368.16 568.18,369.86 571.21,371.55 574.23,373.24 577.26,374.93 580.29,376.62 583.32,378.31 586.35,379.99 589.38,381.67 592.41,383.36 595.44,385.04 598.47,386.72 601.50,388.39 604.53,390.07 607.56,391.74 610.59,393.42 613.62,395.09 616.65,396.76 619.68,398.43 622.71,400.09 625.73,401.76 628.76,403.43 631.79,405.09 634.82,406.75 637.85,408.41" fill="none" stroke="#000" stroke-width="1.50" stroke-dasharray="3.2,2" stroke-linecap="butt" stroke-linejoin="round"/>
<polyline points="395.50,267.30 398.53,268.55 401.56,269.83 404.59,271.13 407.62,272.44 410.65,273.75 413.68,275.07 416.71,276.40 419.74,277.73 422.76,279.06 425.79,280.40 428.82,281.74 431.85,283.08 434.88,284.43 437.91,285.78 440.94,287.13 443.97,288.48 447.00,289.83 450.03,291.19 453.06,292.55 456.09,293.90 459.12,295.26 462.15,296.63 465.18,297.99 468.21,299.35 471.24,300.72 474.26,302.09 477.29,303.45 480.32,304.82 483.35,306.19 486.38,307.56 489.41,308.94 492.44,310.31 495.47,311.68 498.50,313.06 501.53,314.43 504.56,315.81 507.59,317.19 510.62,318.57 513.65,319.95 516.68,321.33 519.71,322.71 522.73,324.09 525.76,325.47 528.79,326.85 531.82,328.24 534.85,329.62 537.88,331.01 540.91,332.39 543.94,333.78 546.97,335.17 550.00,336.55 553.03,337.94 556.06,339.33 559.09,340.72 562.12,342.11 565.15,343.50 568.18,344.89 571.21,346.28 574.23,347.67 577.26,349.07 580.29,350.46 583.32,351.85 586.35,353.25 589.38,354.64 592.41,356.04 595.44,357.43 598.47,358.83 601.50,360.22 604.53,361.62 607.56,363.02 610.59,364.42 613.62,365.81 616.65,367.21 619.68,368.61 622.71,370.01 625.73,371.41 628.76,372.81 631.79,374.21 634.82,375.61 637.85,377.01" fill="none" stroke="#000" stroke-width="1.45" stroke-dasharray="1.3,1.35" stroke-linecap="butt" stroke-linejoin="round"/>
<line x1="476.28" y1="288.13" x2="476.28" y2="314.95" stroke="#a5a5a5" stroke-width="1"/>
<line x1="474.68" y1="288.13" x2="477.88" y2="288.13" stroke="#a5a5a5" stroke-width="1"/>
<line x1="474.68" y1="314.95" x2="477.88" y2="314.95" stroke="#a5a5a5" stroke-width="1"/>
<line x1="476.28" y1="298.54" x2="476.28" y2="341.50" stroke="#a5a5a5" stroke-width="1"/>
<line x1="474.68" y1="298.54" x2="477.88" y2="298.54" stroke="#a5a5a5" stroke-width="1"/>
<line x1="474.68" y1="341.50" x2="477.88" y2="341.50" stroke="#a5a5a5" stroke-width="1"/>
<line x1="476.28" y1="298.54" x2="476.28" y2="331.09" stroke="#a5a5a5" stroke-width="1"/>
<line x1="474.68" y1="331.09" x2="477.88" y2="331.09" stroke="#a5a5a5" stroke-width="1"/>
<line x1="557.07" y1="334.47" x2="557.07" y2="366.24" stroke="#a5a5a5" stroke-width="1"/>
<line x1="555.47" y1="334.47" x2="558.67" y2="334.47" stroke="#a5a5a5" stroke-width="1"/>
<line x1="555.47" y1="366.24" x2="558.67" y2="366.24" stroke="#a5a5a5" stroke-width="1"/>
<line x1="557.07" y1="338.38" x2="557.07" y2="417.01" stroke="#a5a5a5" stroke-width="1"/>
<line x1="555.47" y1="417.01" x2="558.67" y2="417.01" stroke="#a5a5a5" stroke-width="1"/>
<line x1="637.85" y1="359.73" x2="637.85" y2="384.46" stroke="#a5a5a5" stroke-width="1"/>
<line x1="636.25" y1="359.73" x2="639.45" y2="359.73" stroke="#a5a5a5" stroke-width="1"/>
<line x1="636.25" y1="384.46" x2="639.45" y2="384.46" stroke="#a5a5a5" stroke-width="1"/>
<line x1="637.85" y1="359.99" x2="637.85" y2="402.69" stroke="#a5a5a5" stroke-width="1"/>
<line x1="637.85" y1="387.06" x2="637.85" y2="406.59" stroke="#a5a5a5" stroke-width="1"/>
<line x1="636.25" y1="406.59" x2="639.45" y2="406.59" stroke="#a5a5a5" stroke-width="1"/>
<circle cx="395.50" cy="267.30" r="2.50" fill="#fff" stroke="#000" stroke-width="0.95"/>
<circle cx="476.28" cy="315.21" r="2.50" fill="#fff" stroke="#000" stroke-width="0.95"/>
<circle cx="557.07" cy="376.65" r="2.50" fill="#fff" stroke="#000" stroke-width="0.95"/>
<circle cx="637.85" cy="381.08" r="2.50" fill="#fff" stroke="#000" stroke-width="0.95"/>
<circle cx="395.50" cy="267.30" r="2.90" fill="#000"/>
<circle cx="476.28" cy="314.69" r="2.90" fill="#000"/>
<circle cx="557.07" cy="379.25" r="2.90" fill="#000"/>
<circle cx="637.85" cy="396.18" r="2.90" fill="#000"/>
<rect x="393.10" y="264.90" width="4.80" height="4.80" fill="#fff" stroke="#000" stroke-width="1.10"/>
<rect x="473.88" y="299.53" width="4.80" height="4.80" fill="#fff" stroke="#000" stroke-width="1.10"/>
<rect x="554.67" y="347.17" width="4.80" height="4.80" fill="#fff" stroke="#000" stroke-width="1.10"/>
<rect x="635.45" y="368.52" width="4.80" height="4.80" fill="#fff" stroke="#000" stroke-width="1.10"/>
<text x="479.30" y="301.00" font-size="12" fill="#4472c4" text-anchor="start" font-weight="normal" stroke="#4472c4" stroke-width="0.12">ab</text>
<text x="479.00" y="318.90" font-size="12" fill="#c00000" text-anchor="start" font-weight="normal" stroke="#c00000" stroke-width="0.12">b</text>
<text x="479.20" y="334.40" font-size="12" fill="#00b050" text-anchor="start" font-weight="normal" stroke="#00b050" stroke-width="0.12">b</text>
<text x="561.70" y="358.00" font-size="12" fill="#4472c4" text-anchor="start" font-weight="normal" stroke="#4472c4" stroke-width="0.12">ab</text>
<text x="560.60" y="379.80" font-size="12" fill="#00b050" text-anchor="start" font-weight="normal" stroke="#00b050" stroke-width="0.12">b</text>
<text x="560.60" y="392.00" font-size="12" fill="#c00000" text-anchor="start" font-weight="normal" stroke="#c00000" stroke-width="0.12">b</text>
<text x="642.00" y="371.80" font-size="12" fill="#4472c4" text-anchor="start" font-weight="normal" stroke="#4472c4" stroke-width="0.12">abc</text>
<text x="642.00" y="384.60" font-size="12" fill="#00b050" text-anchor="start" font-weight="normal" stroke="#00b050" stroke-width="0.12">abc</text>
<text x="642.00" y="401.50" font-size="12" fill="#c00000" text-anchor="start" font-weight="normal" stroke="#c00000" stroke-width="0.12">c</text>
<text x="422.60" y="377.00" font-size="9.5" fill="#000" text-anchor="start" font-weight="normal" stroke="#000" stroke-width="0.15">NS AAO: experimental data</text>
<text x="422.60" y="390.20" font-size="9.5" fill="#000" text-anchor="start" font-weight="normal" stroke="#000" stroke-width="0.15">NS AAO: Weibull predicted</text>
<text x="422.60" y="404.40" font-size="9.5" fill="#000" text-anchor="start" font-weight="normal" stroke="#000" stroke-width="0.15">15 nm AAO: experimental data</text>
<text x="422.60" y="418.00" font-size="9.5" fill="#000" text-anchor="start" font-weight="normal" stroke="#000" stroke-width="0.15">15 nm AAO: Weibull prediction</text>
<text x="422.60" y="431.60" font-size="9.5" fill="#000" text-anchor="start" font-weight="normal" stroke="#000" stroke-width="0.15">100 nm AAO: experimental data</text>
<text x="422.60" y="445.80" font-size="9.5" fill="#000" text-anchor="start" font-weight="normal" stroke="#000" stroke-width="0.15">100 nm AAO: Weibull prediction</text>
<circle cx="412.00" cy="373.60" r="2.30" fill="#fff" stroke="#000" stroke-width="0.90"/>
<line x1="403.3" y1="386.8" x2="421.5" y2="386.8" stroke="#000" stroke-width="1.5"/>
<circle cx="412.00" cy="401.00" r="2.60" fill="#000"/>
<line x1="403.3" y1="414.6" x2="421.5" y2="414.6" stroke="#000" stroke-width="1.5" stroke-dasharray="3.2,1.6"/>
<rect x="409.55" y="425.75" width="4.90" height="4.90" fill="#fff" stroke="#000" stroke-width="0.95"/>
<line x1="403.3" y1="442.4" x2="421.5" y2="442.4" stroke="#000" stroke-width="1.3" stroke-dasharray="1.1,1.1"/>
</svg>
</body></html>
